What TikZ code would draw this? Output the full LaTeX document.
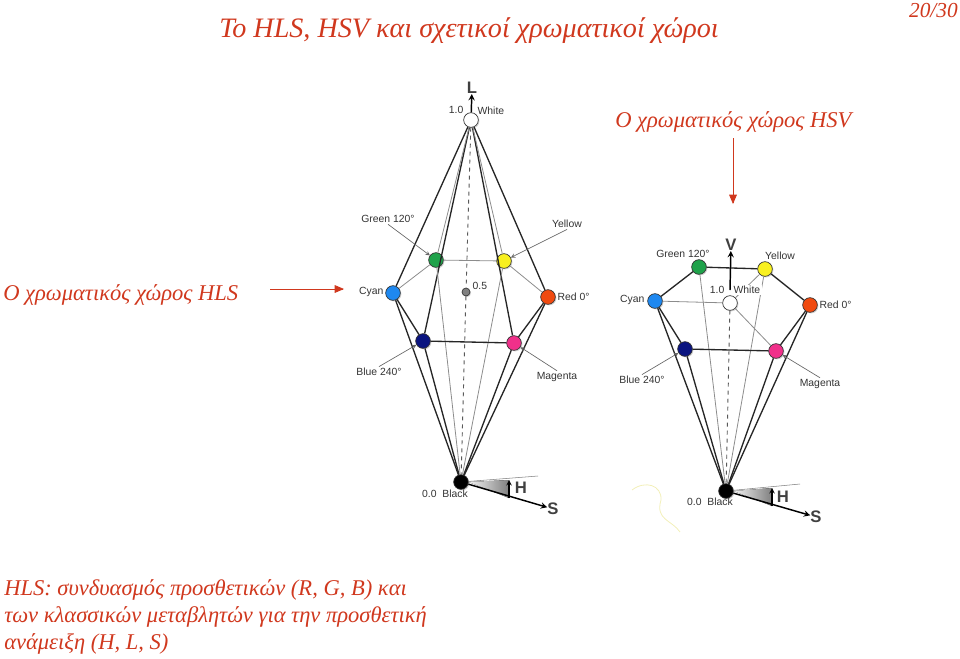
\documentclass[tikz,border=0pt]{standalone}
\usepackage{fontspec}
\setmainfont{Liberation Serif}
\setsansfont{Liberation Sans}
\usepackage{xcolor}
\usetikzlibrary{arrows, shadows}
\definecolor{slidered}{HTML}{D0381E}
\definecolor{dotgreen}{HTML}{1FA24A}
\definecolor{dotcyan}{HTML}{1E88F0}
\definecolor{dotblue}{HTML}{0A1480}
\definecolor{dotred}{HTML}{F04A10}
\definecolor{dotmagenta}{HTML}{F0308A}
\definecolor{dotyellow}{HTML}{F8F020}
\tikzstyle{dot} = [circle, draw=black!80, line width=0.5pt, minimum size=11pt, inner sep=0pt, drop shadow={shadow xshift=0.8pt, shadow yshift=-0.8pt, fill=black!35, opacity=0.5}]
\tikzstyle{tag} = [font=\sffamily\fontsize{7.8}{8}\selectfont, text=black!80, inner sep=1pt]
\tikzstyle{axislabel} = [font=\sffamily\bfseries\fontsize{12.5}{12.5}\selectfont, text=black!75, inner sep=0pt]
\tikzstyle{slidetext} = [font=\itshape\fontsize{16.9}{16.9}\selectfont, text=slidered, inner sep=0pt]
\tikzstyle{edge} = [line width=1pt, black!85]
\tikzstyle{thinedge} = [line width=0.6pt, black!45]
\tikzstyle{center} = [line width=0.7pt, dashed, black!65]
\tikzstyle{leader} = [line width=0.5pt, black!60, ->, >=stealth]
\tikzstyle{arrow} = [line width=1.1pt,->,>=stealth]
\tikzstyle{smallarrow} = [line width=0.8pt,->,>=stealth]
\tikzstyle{redarrow} = [line width=0.6pt, slidered, ->, >=triangle 45]
\begin{document}
\begin{tikzpicture}[x=0.75pt,y=-0.75pt]
  \useasboundingbox (0,0) rectangle (960,658);

  % slide texts
  \node (title) [slidetext, anchor=base west, font=\itshape\fontsize{21.1}{21.1}\selectfont] at (219,37) {Το HLS, HSV και σχετικοί χρωματικοί χώροι};
  \node (page) [slidetext, anchor=base east, font=\itshape\fontsize{16}{16}\selectfont] at (958,17) {20/30};
  \node (namehsv) [slidetext, anchor=base west] at (615,127) {Ο χρωματικός χώρος HSV};
  \node (namehls) [slidetext, anchor=base west] at (3,300) {Ο χρωματικός χώρος HLS};
  \node (line1) [slidetext, anchor=base west] at (4,595) {HLS: συνδυασμός προσθετικών (R, G, B) και};
  \node (line2) [slidetext, anchor=base west] at (4,622) {των κλασσικών μεταβλητών για την προσθετική};
  \node (line3) [slidetext, anchor=base west] at (4,649) {ανάμειξη (H, L, S)};
  \coordinate (hsvfrom) at (733,138);
  \coordinate (hsvto) at (733,204);
  \coordinate (hlsfrom) at (270,289);
  \coordinate (hlsto) at (344,289);
  \draw[redarrow] (hsvfrom) -- (hsvto);
  \draw[redarrow] (hlsfrom) -- (hlsto);

  % HLS double cone
  \node (white) [dot, fill=white] at (471,120) {};
  \node (green) [dot, fill=dotgreen] at (436,260) {};
  \node (yellow) [dot, fill=dotyellow] at (504,261) {};
  \node (cyan) [dot, fill=dotcyan] at (393,293) {};
  \node (red) [dot, fill=dotred] at (548,297) {};
  \node (mid) [dot, fill=black!50, minimum size=6pt] at (466,292) {};
  \node (blue) [dot, fill=dotblue] at (423,341) {};
  \node (magenta) [dot, fill=dotmagenta] at (514,343) {};
  \node (black) [dot, fill=black] at (461,482) {};

  \foreach \a in {cyan,blue,magenta,red} {
    \draw[edge] (white) -- (\a);
    \draw[edge] (black) -- (\a);
  }
  \foreach \a in {green,yellow} {
    \draw[thinedge] (white) -- (\a);
    \draw[thinedge] (black) -- (\a);
  }
  \draw[thinedge] (cyan) -- (green);
  \draw[thinedge] (green) -- (yellow);
  \draw[thinedge] (yellow) -- (red);
  \draw[edge] (cyan) -- (blue);
  \draw[edge] (blue) -- (magenta);
  \draw[edge] (magenta) -- (red);
  \draw[center] (white) -- (mid);
  \draw[center] (mid) -- (black);

  \node (twhite) [tag, anchor=west] at (476,111) {White};
  \node (tone) [tag, anchor=east] at (465,110) {1.0};
  \node (tmid) [tag, anchor=west] at (471,286) {0.5};
  \node (tgreen) [tag] at (388,219) {Green 120°};
  \node (tyellow) [tag] at (567,224) {Yellow};
  \node (tcyan) [tag, anchor=east] at (385,292) {Cyan};
  \node (tred) [tag, anchor=west] at (556,297) {Red 0°};
  \node (tblue) [tag] at (379,372) {Blue 240°};
  \node (tmagenta) [tag] at (557,377) {Magenta};
  \node (tblack) [tag] at (445,494) {0.0\ \ Black};
  \draw[leader] (tgreen.south) -- (green);
  \draw[leader] (tyellow.south) -- (yellow);
  \draw[leader] (tblue.north) -- (blue);
  \draw[leader] (tmagenta.north) -- (magenta);

  \node (axisl) [axislabel] at (472,88) {L};
  \draw[arrow] (white) -- (axisl);
  \coordinate (wedgetop) at (509,480);
  \coordinate (wedgebot) at (509,498);
  \coordinate (topend) at (538,476);
  \fill[left color=black!5, right color=black!50] (black.east) -- (wedgetop) -- (wedgebot) -- cycle;
  \draw[line width=0.4pt, black!50] (black) -- (topend);
  \node (axiss) [axislabel] at (553,509) {S};
  \node (axish) [axislabel] at (521,488) {H};
  \draw[arrow] (black) -- (axiss);
  \draw[smallarrow] (wedgebot) -- (wedgetop);

  % HSV cone
  \node (white2) [dot, fill=white] at (730,303) {};
  \node (green2) [dot, fill=dotgreen] at (699,267) {};
  \node (yellow2) [dot, fill=dotyellow] at (765,269) {};
  \node (cyan2) [dot, fill=dotcyan] at (655,301) {};
  \node (red2) [dot, fill=dotred] at (810,305) {};
  \node (blue2) [dot, fill=dotblue] at (685,349) {};
  \node (magenta2) [dot, fill=dotmagenta] at (776,351) {};
  \node (black2) [dot, fill=black] at (726,491) {};

  \foreach \a in {cyan2,blue2,magenta2,red2} {
    \draw[edge] (black2) -- (\a);
  }
  \foreach \a in {green2,yellow2} {
    \draw[thinedge] (black2) -- (\a);
  }
  \draw[edge] (cyan2) -- (green2);
  \draw[edge] (green2) -- (yellow2);
  \draw[edge] (yellow2) -- (red2);
  \draw[edge] (cyan2) -- (blue2);
  \draw[edge] (blue2) -- (magenta2);
  \draw[edge] (magenta2) -- (red2);
  \draw[thinedge] (cyan2) -- (white2);
  \draw[thinedge] (white2) -- (magenta2);
  \draw[thinedge] (white2) -- (yellow2);
  \draw[center] (white2) -- (black2);

  \node (twhite2) [tag, anchor=west, fill=white] at (732,290) {White};
  \node (tone2) [tag, anchor=east] at (726,290) {1.0};
  \node (tgreen2) [tag] at (683,254) {Green 120°};
  \node (tyellow2) [tag] at (780,256) {Yellow};
  \node (tcyan2) [tag, anchor=east] at (646,300) {Cyan};
  \node (tred2) [tag, anchor=west] at (818,305) {Red 0°};
  \node (tblue2) [tag] at (642,380) {Blue 240°};
  \node (tmagenta2) [tag] at (820,384) {Magenta};
  \node (tblack2) [tag] at (710,502) {0.0\ \ Black};
  \draw[leader] (tblue2.north) -- (blue2);
  \draw[leader] (tmagenta2.north) -- (magenta2);

  \node (axisv) [axislabel] at (731,245) {V};
  \coordinate (vfrom) at (730,290);
  \draw[arrow] (vfrom) -- (axisv);
  \coordinate (wedgetop2) at (772,488);
  \coordinate (wedgebot2) at (772,506);
  \coordinate (topend2) at (800,484);
  \fill[left color=black!5, right color=black!50] (black2.east) -- (wedgetop2) -- (wedgebot2) -- cycle;
  \draw[line width=0.4pt, black!50] (black2) -- (topend2);
  \node (axiss2) [axislabel] at (816,517) {S};
  \node (axish2) [axislabel] at (783,497) {H};
  \draw[arrow] (black2) -- (axiss2);
  \draw[smallarrow] (wedgebot2) -- (wedgetop2);

  % stray hair on the scan
  \draw[line width=0.6pt, black!20!yellow!30!white] (632,490) .. controls (645,480) and (662,485) .. (661,500) .. controls (655,520) and (672,520) .. (680,532);
\end{tikzpicture}
\end{document}
